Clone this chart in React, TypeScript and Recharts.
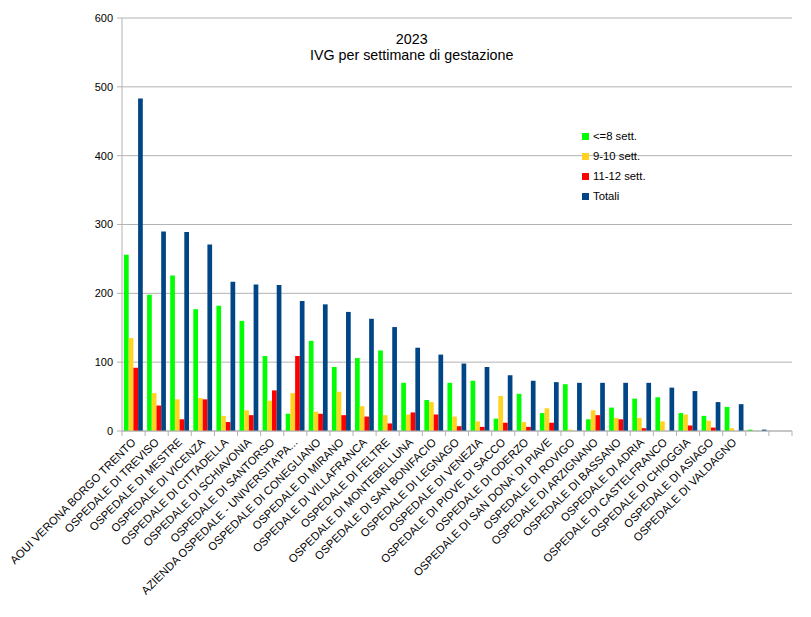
import React from 'react';
import { BarChart, Bar, XAxis, YAxis, CartesianGrid, Legend } from 'recharts';

const categories = [
  'AOUI VERONA BORGO TRENTO',
  'OSPEDALE DI TREVISO',
  'OSPEDALE DI MESTRE',
  'OSPEDALE DI VICENZA',
  'OSPEDALE DI CITTADELLA',
  'OSPEDALE DI SCHIAVONIA',
  'OSPEDALE DI SANTORSO',
  "AZIENDA OSPEDALE - UNIVERSITA'PA...",
  'OSPEDALE DI CONEGLIANO',
  'OSPEDALE DI MIRANO',
  'OSPEDALE DI VILLAFRANCA',
  'OSPEDALE DI FELTRE',
  'OSPEDALE DI MONTEBELLUNA',
  'OSPEDALE DI SAN BONIFACIO',
  'OSPEDALE DI LEGNAGO',
  'OSPEDALE DI VENEZIA',
  'OSPEDALE DI PIOVE DI SACCO',
  'OSPEDALE DI ODERZO',
  "OSPEDALE DI SAN DONA' DI PIAVE",
  'OSPEDALE DI ROVIGO',
  'OSPEDALE DI ARZIGNANO',
  'OSPEDALE DI BASSANO',
  'OSPEDALE DI ADRIA',
  'OSPEDALE DI CASTELFRANCO',
  'OSPEDALE DI CHIOGGIA',
  'OSPEDALE DI ASIAGO',
  'OSPEDALE DI VALDAGNO',
  ' ',
  '  ',
];

const le8 = [256, 198, 226, 177, 182, 160, 109, 25, 131, 93, 106, 117, 70, 45, 70, 73, 18, 54, 26, 68, 17, 34, 47, 49, 26, 22, 35, 2, 0];
const w910 = [135, 55, 46, 48, 22, 30, 44, 55, 28, 57, 36, 23, 24, 42, 21, 14, 51, 13, 33, 2, 30, 19, 19, 14, 24, 15, 4, 0, 0];
const w1112 = [92, 37, 17, 46, 13, 23, 59, 109, 25, 23, 21, 11, 27, 24, 7, 6, 12, 6, 12, 0, 23, 17, 4, 0, 8, 5, 0, 0, 0];
const totals = [483, 290, 289, 271, 217, 213, 212, 189, 184, 173, 163, 151, 121, 111, 98, 93, 81, 73, 71, 70, 70, 70, 70, 63, 58, 42, 39, 2, 0];

const yTicks = [0, 100, 200, 300, 400, 500, 600];

const seriesNames = ['<=8 sett.', '9-10 sett.', '11-12 sett.', 'Totali'];
const seriesColors = ['#00ff00', '#ffd320', '#ff0000', '#004586'];

const data = categories.map((name, i) => ({
  name,
  le8: le8[i],
  w910: w910[i],
  w1112: w1112[i],
  tot: totals[i],
}));

const FONT = '"Liberation Sans", Arial, sans-serif';
const GRID = '#b3b3b3';

const XTick = (props: any) => {
  const { x, y, payload, index } = props;
  const off = payload && payload.offset ? payload.offset : 0;
  const label = categories[index] ?? '';
  return (
    <g>
      <line x1={x - off} x2={x - off} y1={y} y2={y + 5} stroke={GRID} />
      {index === categories.length - 1 && (
        <line x1={x + off} x2={x + off} y1={y} y2={y + 5} stroke={GRID} />
      )}
      <text
        transform={`translate(${x + 3},${y + 12}) rotate(-45)`}
        textAnchor="end"
        fontSize={11.3}
        fontFamily={FONT}
        fill="#000"
      >
        {label.trim()}
      </text>
    </g>
  );
};

const LegendContent = () => (
  <div style={{ fontFamily: FONT, fontSize: 11.3, color: '#000' }}>
    {seriesNames.map((n, i) => (
      <div key={n} style={{ display: 'flex', alignItems: 'center', height: 20 }}>
        <span style={{ display: 'inline-block', width: 7, height: 7, background: seriesColors[i], marginRight: 4 }} />
        <span>{n}</span>
      </div>
    ))}
  </div>
);

export default function App() {
  return (
    <div style={{ position: 'relative', width: 800, height: 609 }}>
      <BarChart
        width={800}
        height={609}
        data={data}
        margin={{ top: 10, right: 16, bottom: 0, left: 0 }}
        barGap={0}
        barSize={4.7}
      >
        <CartesianGrid vertical={false} stroke={GRID} />
        <XAxis
          dataKey="name"
          interval={0}
          height={186}
          tickLine={false}
          tickSize={0}
          tickMargin={0}
          axisLine={{ stroke: GRID }}
          tick={<XTick />}
        />
        <YAxis
          domain={[0, 600]}
          ticks={yTicks}
          width={114}
          tickSize={5}
          tickMargin={4}
          tickLine={{ stroke: GRID }}
          axisLine={{ stroke: GRID }}
          tick={{ fill: '#000', fontSize: 11, fontFamily: FONT }}
          interval={0}
        />
        <YAxis
          yAxisId="r"
          orientation="right"
          width={0}
          tick={false}
          tickLine={false}
          axisLine={{ stroke: GRID }}
        />
        <Legend
          layout="vertical"
          align="center"
          verticalAlign="middle"
          content={<LegendContent />}
          wrapperStyle={{ left: 574, top: 118, width: 'auto', height: 'auto' }}
        />
        <Bar dataKey="le8" name={seriesNames[0]} fill={seriesColors[0]} isAnimationActive={false} />
        <Bar dataKey="w910" name={seriesNames[1]} fill={seriesColors[1]} isAnimationActive={false} />
        <Bar dataKey="w1112" name={seriesNames[2]} fill={seriesColors[2]} isAnimationActive={false} />
        <Bar dataKey="tot" name={seriesNames[3]} fill={seriesColors[3]} isAnimationActive={false} />
      </BarChart>
      <div
        style={{
          position: 'absolute',
          left: 0,
          top: 23,
          width: 807.4,
          textAlign: 'center',
          fontFamily: FONT,
          fontSize: 14.3,
          lineHeight: '16px',
          color: '#000',
          pointerEvents: 'none',
        }}
      >
        <div>2023</div>
        <div>IVG per settimane di gestazione</div>
      </div>
    </div>
  );
}
